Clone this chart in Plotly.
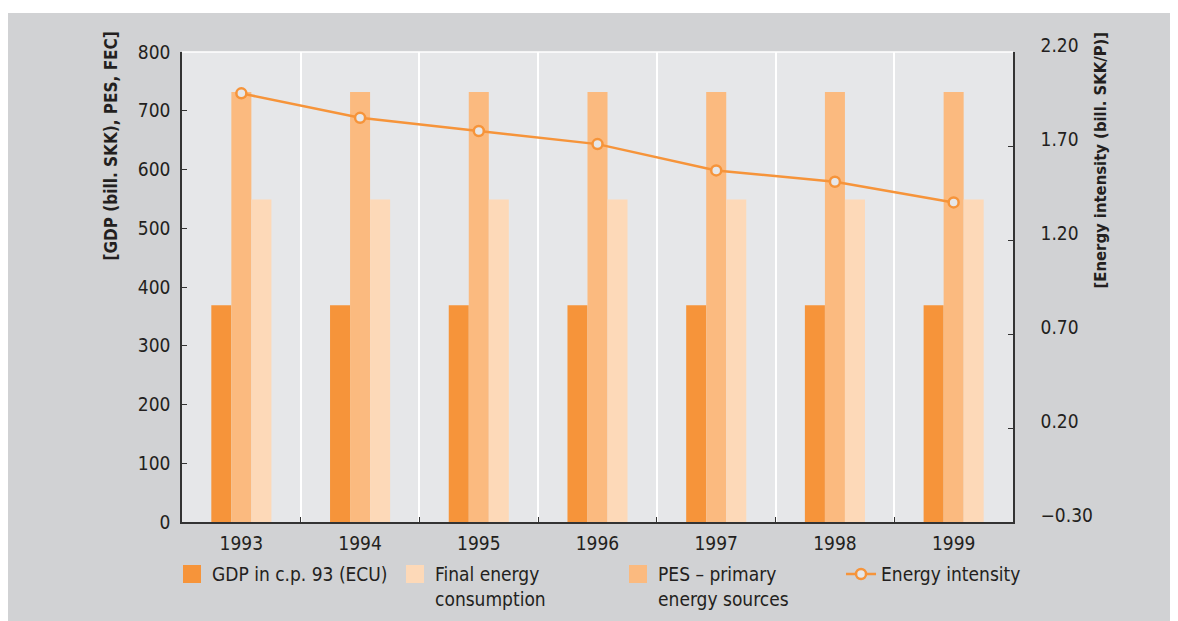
import plotly.graph_objects as go

years = ["1993", "1994", "1995", "1996", "1997", "1998", "1999"]
gdp = [369, 369, 369, 369, 369, 369, 369]
pes = [732, 732, 732, 732, 732, 732, 732]
fec = [549, 549, 549, 549, 549, 549, 549]
intensity = [1.98, 1.85, 1.78, 1.71, 1.57, 1.51, 1.40]

names = {
    "gdp": "GDP in c.p. 93 (ECU)",
    "fec": "Final energy<br>consumption",
    "pes": "PES – primary<br>energy sources",
    "ei": "Energy intensity",
}
colors = {"gdp": "#f6943a", "pes": "#fbba7f", "fec": "#fdd9b8", "ei": "#f6943a"}

FONT = "Liberation Sans Narrow, Arial Narrow, DejaVu Sans Condensed, sans-serif"
TXT = "#231f20"
OUTER = "#d1d2d4"
PLOT_BG = "#e6e7e9"

fig = go.Figure()

for key, vals in (("gdp", gdp), ("pes", pes), ("fec", fec)):
    fig.add_trace(go.Bar(x=years, y=vals, name=names[key], marker_color=colors[key],
                         marker_line_width=0, showlegend=False, yaxis="y"))

# legend swatches (square markers), in legend order
for i, key in enumerate(("gdp", "fec", "pes")):
    fig.add_trace(go.Scatter(x=[None], y=[None], mode="markers", name=names[key],
                             marker=dict(symbol="square", size=16, color=colors[key],
                                         line=dict(width=2, color=colors[key])),
                             legendrank=i + 1, showlegend=True))

fig.add_trace(go.Scatter(x=years, y=intensity, name=names["ei"], yaxis="y2",
                         mode="lines+markers",
                         line=dict(color=colors["ei"], width=2.5),
                         marker=dict(symbol="circle", size=10, color=PLOT_BG,
                                     line=dict(color=colors["ei"], width=2.5)),
                         legendrank=4))

fig.update_layout(
    width=1170, height=613,
    margin=dict(l=174, r=165, t=44, b=99, autoexpand=False),
    paper_bgcolor=OUTER,
    plot_bgcolor=PLOT_BG,
    font=dict(family=FONT, size=19, color=TXT),
    barmode="group", bargap=0.494, bargroupgap=0,
    xaxis=dict(type="category", tickson="boundaries", ticks="inside", ticklen=5,
               tickcolor="#333333", showline=True, linecolor="#333333", linewidth=1.5,
               showgrid=True, gridcolor="white", gridwidth=1.5, ticklabelstandoff=3),
    yaxis=dict(range=[0, 800], dtick=100, ticks="inside", ticklen=5, tickcolor="#333333",
               showline=True, linecolor="#333333", linewidth=1.5, showgrid=False,
               zeroline=False, ticklabelstandoff=6),
    yaxis2=dict(range=[-0.30, 2.20], tick0=-0.30, dtick=0.5, tickformat=".2f",
                overlaying="y", side="right", ticks="inside", ticklen=5,
                tickcolor="#333333", showline=True, linecolor="#333333", linewidth=1.5,
                showgrid=False, zeroline=False, ticklabelstandoff=22, ticklabelshift=-7),
    legend=dict(orientation="h", x=-0.012, xanchor="left", y=-0.0706, yanchor="top",
                bgcolor="rgba(0,0,0,0)", valign="top", entrywidth=178,
                traceorder="normal", font=dict(size=19)),
    showlegend=True,
)

fig.add_annotation(text="[GDP (bill. SKK), PES, FEC]", xref="paper", yref="paper",
                   x=-0.0866, y=1.0468, xanchor="center", yanchor="top", textangle=-90,
                   showarrow=False, font=dict(size=17, weight="bold"))
fig.add_annotation(text="[Energy intensity (bill. SKK/P)]", xref="paper", yref="paper",
                   x=1.1047, y=1.0468, xanchor="center", yanchor="top", textangle=-90,
                   showarrow=False, font=dict(size=16.5, weight="bold"))

# white top border line of plot area
fig.add_shape(type="line", xref="paper", yref="paper", x0=0, x1=1, y0=1, y1=1,
              line=dict(color="white", width=1.5), layer="above")
# white strip above the grey panel
fig.add_shape(type="rect", xref="paper", yref="paper", x0=-0.25, x1=1.25, y0=1.083, y1=1.2,
              fillcolor="white", line_width=0, layer="above")

fig.write_html("out.html")
